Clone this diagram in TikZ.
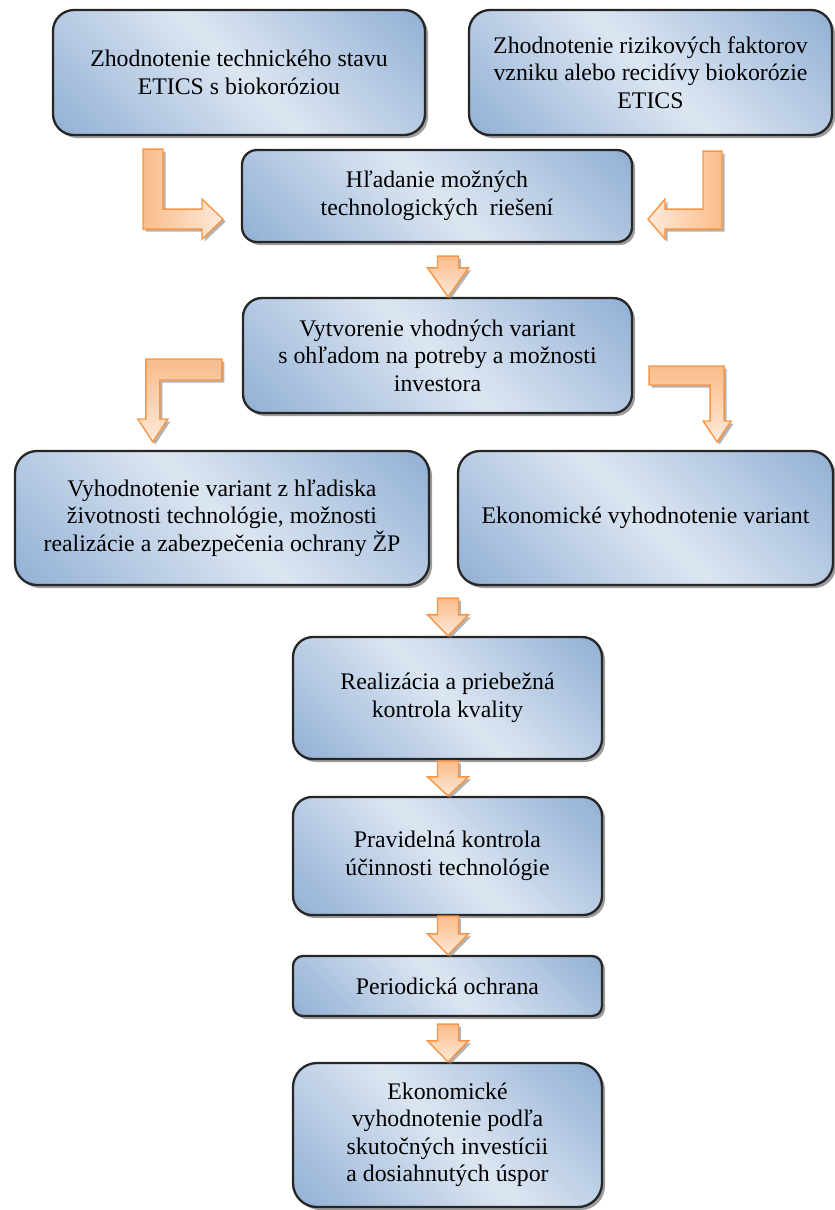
\documentclass[tikz,border=0pt]{standalone}
\usepackage{fontspec}
\setmainfont{Liberation Serif}
\usetikzlibrary{calc,shadows}

\definecolor{modraSvetla}{RGB}{220,230,242}
\definecolor{modraTmava}{RGB}{146,176,213}
\definecolor{oranzova}{RGB}{247,150,70}
\definecolor{oranzTmava}{RGB}{250,188,138}
\definecolor{oranzSvetla}{RGB}{253,234,218}

\pgfdeclarehorizontalshading{krokshade}{100bp}{color(0bp)=(modraTmava); color(15bp)=(modraTmava);
  color(50bp)=(modraSvetla); color(85bp)=(modraTmava); color(100bp)=(modraTmava)}

% sipka nadol: x, horny uzol, medzera, dlzka hrotu, dolny uzol
\newcommand{\sipka}[5]{%
  \path (#1,0 |- #2.south) coordinate (sA) (#1,0 |- #5.north) coordinate (sB);
  \draw[strelka,top color=oranzTmava,bottom color=oranzSvetla]
    ($(sA)+(-10.5,#3)$) -- ($(sA)+(10.5,#3)$) -- ($(sB)+(10.5,-#4)$) -- ($(sB)+(20.5,-#4)$)
    -- (sB) -- ($(sB)+(-20.5,-#4)$) -- ($(sB)+(-10.5,-#4)$) -- cycle;
}

\begin{document}
\begin{tikzpicture}[x=1pt,y=-1pt,
    krok/.style={draw=black!85,line width=2.3pt,rounded corners=#1,shading=krokshade,shading angle=45,
      align=center,inner sep=0pt,font=\fontsize{23.8}{27.5}\selectfont,
      drop shadow={shadow xshift=3pt,shadow yshift=-3pt,fill=black!55,opacity=.7}},
    krok/.default=20pt,
    strelka/.style={draw=oranzova,line width=1.4pt,
      drop shadow={shadow xshift=2.5pt,shadow yshift=-2.5pt,fill=black!50,opacity=.6}}]
  \useasboundingbox (0,0) rectangle (835,1210);

  \node[krok=21pt,minimum width=372pt,minimum height=125pt] (zhodA) at (239,72.5)
    {Zhodnotenie technického stavu\\ETICS s biokoróziou};
  \node[krok=21pt,minimum width=363pt,minimum height=125pt] (zhodB) at (650.5,72.5)
    {Zhodnotenie rizikových faktorov\\vzniku alebo recidívy biokorózie\\ETICS};
  \node[krok=15pt,minimum width=390pt,minimum height=92pt] (hladanie) at (437,196)
    {Hľadanie možných\\technologických\ \ riešení};
  \node[krok=19pt,minimum width=389pt,minimum height=115pt] (varianty) at (437.5,355.5)
    {Vytvorenie vhodných variant\\s ohľadom na potreby a možnosti\\investora};
  \node[krok=22pt,minimum width=414pt,minimum height=134pt] (vyhodn) at (222,518)
    {Vyhodnotenie variant z hľadiska\\životnosti technológie, možnosti\\realizácie a zabezpečenia ochrany ŽP};
  \node[krok=22pt,minimum width=375pt,minimum height=134pt] (ekonom) at (645.5,518)
    {Ekonomické vyhodnotenie variant};
  \node[krok=20pt,minimum width=309pt,minimum height=122pt] (realiz) at (447.5,698)
    {Realizácia a priebežná\\kontrola kvality};
  \node[krok=19pt,minimum width=309pt,minimum height=118pt] (kontrola) at (447.5,856)
    {Pravidelná kontrola\\účinnosti technológie};
  \node[krok=10pt,minimum width=309pt,minimum height=60pt] (ochrana) at (447.5,986)
    {Periodická ochrana};
  \node[krok=24pt,minimum width=309pt,minimum height=144pt] (uspory) at (447.5,1135)
    {Ekonomické\\vyhodnotenie podľa\\skutočných investícii\\a dosiahnutých úspor};

  % zalomene sipky
  \draw[strelka,left color=oranzTmava,right color=oranzSvetla] ($(zhodA.south)+(-96,13)$)
    -- ++(20,0) -- ++(0,60) -- ++(39,0) -- ++(0,-10) -- ++(21,20) -- ++(-21,20) -- ++(0,-10) -- ++(-59,0) -- cycle;
  \draw[strelka,left color=oranzSvetla,right color=oranzTmava] ($(zhodB.south)+(52.5,15)$)
    -- ++(19,0) -- ++(0,78) -- ++(-57,0) -- ++(0,10) -- ++(-17,-20) -- ++(17,-20) -- ++(0,10) -- ++(38,0) -- cycle;
  \draw[strelka,top color=oranzTmava,bottom color=oranzSvetla] ($(varianty.west)+(-20,3.5)$)
    -- ++(0,21) -- ++(-62,0) -- ++(0,39) -- ++(8,0) -- ++(-15,23) -- ++(-15,-23) -- ++(8,0) -- ++(0,-60) -- cycle;
  \draw[strelka,top color=oranzTmava,bottom color=oranzSvetla] ($(varianty.east)+(16,10.5)$)
    -- ++(75,0) -- ++(0,55) -- ++(7,0) -- ++(-14,21) -- ++(-14,-21) -- ++(7,0) -- ++(0,-36) -- ++(-61,0) -- cycle;

  % rovne sipky
  \sipka{448}{hladanie}{13}{29}{varianty}
  \sipka{448}{vyhodn}{12}{21}{realiz}
  \sipka{448}{realiz}{1}{19}{kontrola}
  \sipka{448}{kontrola}{0}{21}{ochrana}
  \sipka{448}{ochrana}{7}{21}{uspory}
\end{tikzpicture}
\end{document}
